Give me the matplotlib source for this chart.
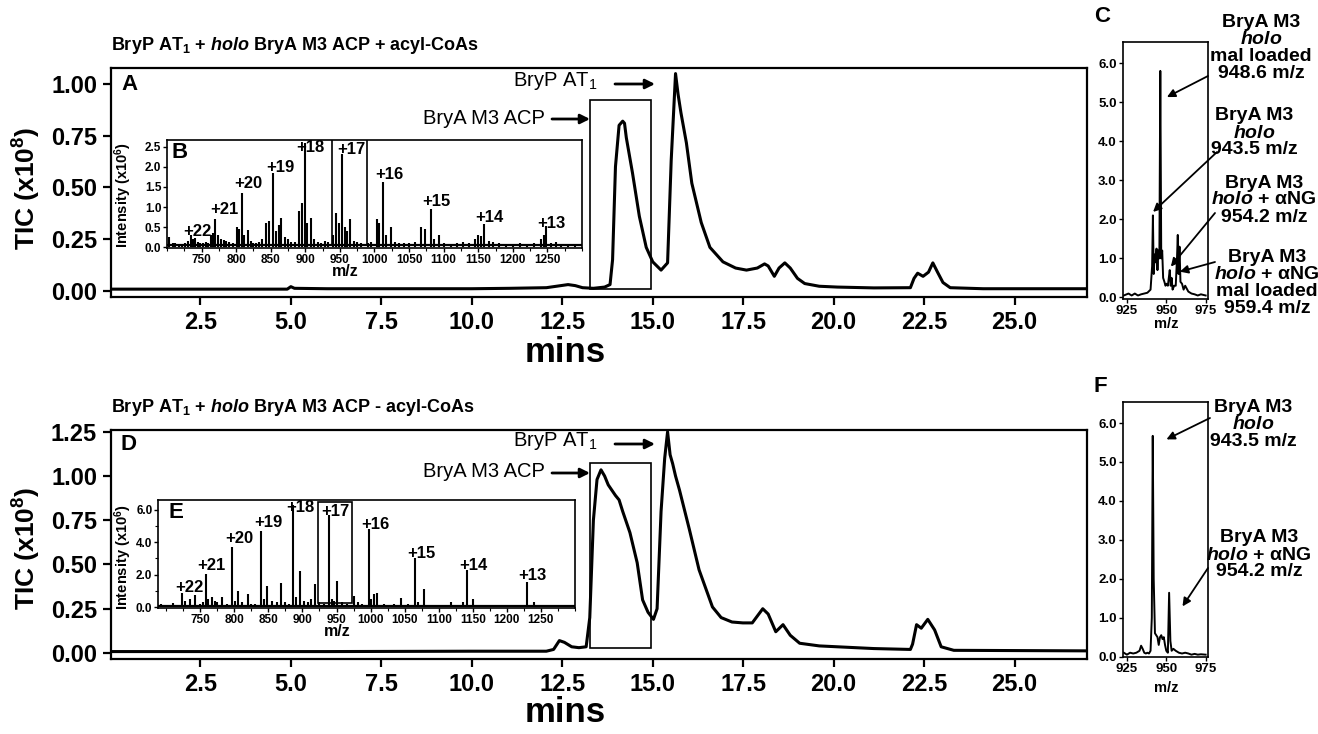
import matplotlib
matplotlib.use("Agg")
import matplotlib.pyplot as plt
from matplotlib.patches import Rectangle
from matplotlib.ticker import FormatStrFormatter, MultipleLocator

W, H = 1318, 734

plt.rcParams["font.family"] = ["Liberation Sans", "DejaVu Sans"]
plt.rcParams["mathtext.fontset"] = "custom"
plt.rcParams["mathtext.it"] = "Liberation Sans:italic:bold"
plt.rcParams["mathtext.rm"] = "Liberation Sans:bold"
plt.rcParams["mathtext.bf"] = "Liberation Sans:bold"

# ---- TIC chromatograms (mins, TIC x10^8) ----
time_a = [0.03, 1.0, 2.0, 3.0, 4.0, 4.9, 5.0, 5.1, 6.0, 8.0, 10.0, 11.05, 12.06, 12.46,
          12.66, 12.86, 13.06, 13.36, 13.67, 13.82, 13.89, 13.97, 14.07, 14.17, 14.22,
          14.27, 14.44, 14.63, 14.82, 15.0, 15.23, 15.41, 15.51, 15.63, 15.70, 15.78,
          15.93, 16.08, 16.34, 16.58, 16.94, 17.29, 17.59, 17.89, 18.09, 18.19, 18.36,
          18.49, 18.65, 18.80, 19.0, 19.2, 19.6, 20.1, 21.11, 22.12, 22.22, 22.32, 22.47,
          22.62, 22.74, 22.87, 23.02, 23.22, 24.13, 27.0]
tic_a = [0.008, 0.008, 0.008, 0.008, 0.008, 0.008, 0.02, 0.012, 0.01, 0.01, 0.01, 0.012,
         0.015, 0.025, 0.03, 0.025, 0.015, 0.012, 0.018, 0.03, 0.15, 0.6, 0.8, 0.82,
         0.81, 0.74, 0.57, 0.36, 0.21, 0.14, 0.10, 0.135, 0.63, 1.05, 0.95, 0.86, 0.715,
         0.52, 0.33, 0.21, 0.14, 0.11, 0.10, 0.11, 0.13, 0.12, 0.07, 0.11, 0.135, 0.11,
         0.06, 0.035, 0.022, 0.018, 0.014, 0.015, 0.06, 0.085, 0.07, 0.09, 0.135, 0.09,
         0.04, 0.015, 0.01, 0.01]

time_d = [0.03, 2.0, 4.0, 6.0, 8.0, 10.0, 12.06, 12.26, 12.42, 12.56, 12.76, 12.96,
          13.16, 13.26, 13.36, 13.46, 13.57, 13.67, 13.77, 13.87, 13.97, 14.07, 14.17,
          14.27, 14.37, 14.57, 14.72, 14.87, 15.02, 15.12, 15.23, 15.33, 15.41, 15.48,
          15.55, 15.63, 15.74, 16.01, 16.28, 16.65, 16.89, 17.19, 17.49, 17.75, 18.04,
          18.19, 18.40, 18.60, 18.80, 19.06, 19.6, 20.1, 21.11, 22.12, 22.18, 22.29,
          22.42, 22.6, 22.79, 22.97, 23.32, 27.0]
tic_d = [0.008, 0.008, 0.008, 0.008, 0.009, 0.01, 0.01, 0.02, 0.07, 0.06, 0.035, 0.03,
         0.035, 0.2, 0.75, 0.98, 1.035, 1.0, 0.95, 0.92, 0.89, 0.865, 0.8, 0.74, 0.68,
         0.51, 0.3, 0.23, 0.19, 0.25, 0.8, 1.1, 1.25, 1.12, 1.07, 1.0, 0.92, 0.7, 0.47,
         0.26, 0.2, 0.175, 0.17, 0.17, 0.25, 0.22, 0.12, 0.16, 0.1, 0.055, 0.04, 0.035,
         0.025, 0.02, 0.05, 0.16, 0.14, 0.19, 0.13, 0.035, 0.015, 0.012]

# ---- inset spectra (m/z, intensity) ----
mz_b = [703, 708, 712, 717, 722, 726, 730, 734, 737, 741, 745, 748, 752, 756, 760, 763,
        766, 770, 774, 778, 782, 786, 790, 795, 801, 804, 809, 812, 817, 821, 825, 829,
        833, 838, 843, 847, 853, 857, 862, 865, 870, 875, 880, 885, 891, 895, 900, 903,
        908, 912, 918, 923, 928, 933, 940, 945, 949, 953, 957, 960, 964, 970, 975, 980,
        990, 995, 1003, 1007, 1013, 1017, 1024, 1030, 1035, 1042, 1050, 1058, 1067, 1073,
        1081, 1086, 1093, 1100, 1110, 1120, 1128, 1137, 1145, 1150, 1154, 1159, 1166,
        1172, 1180, 1190, 1200, 1210, 1220, 1230, 1240, 1245, 1248, 1255, 1262, 1270,
        1280, 1290]
int_b = [0.25, 0.1, 0.1, 0.08, 0.08, 0.1, 0.15, 0.3, 0.2, 0.22, 0.12, 0.1, 0.1, 0.12,
         0.1, 0.3, 0.35, 0.69, 0.3, 0.2, 0.18, 0.15, 0.12, 0.1, 0.5, 0.45, 1.36, 0.3,
         0.42, 0.15, 0.1, 0.1, 0.12, 0.2, 0.6, 0.65, 1.84, 0.4, 0.55, 0.72, 0.25, 0.2,
         0.12, 0.12, 0.9, 1.1, 2.6, 0.6, 0.72, 0.2, 0.12, 0.1, 0.15, 0.12, 0.3, 0.85, 0.6,
         2.33, 0.5, 0.4, 0.7, 0.15, 0.12, 0.1, 0.1, 0.12, 0.7, 0.6, 1.63, 0.3, 0.5, 0.12,
         0.1, 0.1, 0.1, 0.12, 0.5, 0.45, 0.96, 0.2, 0.3, 0.1, 0.08, 0.1, 0.12, 0.1, 0.2,
         0.3, 0.28, 0.57, 0.15, 0.12, 0.1, 0.08, 0.08, 0.1, 0.07, 0.1, 0.2, 0.3, 0.53,
         0.1, 0.12, 0.08, 0.08, 0.06]
floor_b = 0.05

mz_e = [692, 700, 705, 710, 714, 718, 723, 728, 735, 743, 750, 754, 758, 762, 767, 771,
        775, 782, 790, 797, 801, 806, 812, 820, 825, 830, 839, 843, 848, 855, 862, 868,
        875, 880, 886, 890, 896, 902, 908, 913, 918, 925, 932, 939, 943, 946, 950, 958,
        966, 975, 981, 988, 997, 1001, 1005, 1010, 1020, 1035, 1045, 1055, 1065, 1070,
        1078, 1090, 1105, 1118, 1130, 1135, 1142, 1151, 1165, 1180, 1200, 1220, 1230,
        1240, 1260, 1280]
int_e = [0.2, 0.1, 0.15, 0.25, 0.1, 0.15, 0.85, 0.4, 0.5, 0.75, 0.2, 0.3, 2.05, 0.5,
         0.6, 0.4, 0.3, 0.6, 0.2, 3.72, 0.4, 1.0, 0.3, 0.8, 0.2, 0.2, 4.7, 0.5, 1.3, 0.4,
         0.3, 1.5, 0.3, 0.2, 6.3, 0.6, 2.2, 0.4, 0.3, 0.5, 1.4, 0.3, 0.2, 5.7, 0.5, 0.4,
         1.6, 0.3, 0.2, 0.7, 0.3, 0.2, 4.8, 0.5, 0.8, 0.9, 0.2, 0.2, 0.55, 0.2, 3.05, 0.3,
         1.1, 0.15, 0.1, 0.3, 0.15, 0.3, 2.3, 0.5, 0.15, 0.15, 0.12, 0.15, 1.55, 0.3, 0.1,
         0.1]
floor_e = 0.1

charges = ["+22", "+21", "+20", "+19", "+18", "+17", "+16", "+15", "+14", "+13"]
charge_mz_b = [744, 783, 818, 864, 908, 966, 1022, 1090, 1166, 1255]
charge_y_b = [0.40, 0.93, 1.58, 1.98, 2.48, 2.43, 1.80, 1.13, 0.73, 0.60]
charge_mz_e = [734, 767, 808, 850, 897, 949, 1007, 1075, 1151, 1238]
charge_y_e = [1.22, 2.54, 4.22, 5.2, 6.15, 5.9, 5.1, 3.3, 2.54, 1.98]

# ---- zoomed +17 charge state (m/z, intensity) ----
mz_c = [923, 926, 928, 930, 932, 934, 936, 938, 940, 941, 941.5, 942, 942.6, 943.2,
        943.8, 944.4, 945, 945.6, 946.2, 946.8, 947.4, 948, 948.8, 949.5, 950.2, 951,
        951.6, 952.2, 952.8, 953.4, 954, 955, 956, 956.8, 957.3, 957.8, 958.4, 959, 960,
        961, 962, 964, 966, 968, 970, 972, 975]
int_c = [0.05, 0.1, 0.05, 0.1, 0.05, 0.08, 0.1, 0.12, 0.2, 0.8, 2.1, 0.6, 1.1, 0.9,
         1.25, 0.7, 1.2, 1.0, 5.8, 1.0, 1.2, 0.5, 0.4, 0.3, 0.35, 0.3, 0.5, 0.7, 0.3, 0.5,
         0.2, 0.3, 0.3, 1.0, 1.6, 0.6, 1.3, 0.4, 0.35, 0.2, 0.3, 0.15, 0.1, 0.08, 0.05,
         0.08, 0.05]

mz_f = [923, 925, 927, 929, 931, 933, 934, 935, 936, 937, 938, 939, 940, 940.8, 941.4,
        942, 942.8, 943.6, 944.4, 945.2, 946, 946.8, 947.6, 948.4, 949.2, 950, 951,
        951.8, 952.6, 953.4, 954.5, 956, 958, 960, 962, 964, 966, 968, 970, 972, 975]
int_f = [0.1, 0.05, 0.1, 0.08, 0.1, 0.15, 0.28, 0.2, 0.1, 0.08, 0.1, 0.08, 0.15, 1.0,
         5.67, 2.0, 0.6, 0.55, 0.5, 0.3, 0.5, 0.55, 0.45, 0.5, 0.3, 0.15, 0.1, 1.64, 0.4,
         0.15, 0.2, 0.15, 0.1, 0.08, 0.1, 0.08, 0.05, 0.07, 0.05, 0.06, 0.05]


def fpx(x, y):
    return x / W, 1 - y / H


def ax_at(fig, left, top, right, bottom):
    return fig.add_axes([left / W, 1 - bottom / H, (right - left) / W, (bottom - top) / H])


def bold_ticks(ax):
    for lab in ax.get_xticklabels() + ax.get_yticklabels():
        lab.set_fontweight("bold")


def style_main(ax, ylim, ytop):
    ax.set_xlim(0.03, 27.0)
    ax.set_ylim(*ylim)
    ax.set_xticks([2.5, 5, 7.5, 10, 12.5, 15, 17.5, 20, 22.5, 25])
    ax.set_yticks([i * 0.25 for i in range(ytop + 1)])
    ax.xaxis.set_major_formatter(FormatStrFormatter("%.1f"))
    ax.yaxis.set_major_formatter(FormatStrFormatter("%.2f"))
    ax.tick_params(direction="out", length=6, width=1.6, labelsize=17, pad=4)
    bold_ticks(ax)
    for s in ax.spines.values():
        s.set_linewidth(1.6)


def style_inset(ax, xlim, ylim, ystep, yminor):
    ax.set_xlim(*xlim)
    ax.set_ylim(*ylim)
    ax.set_xticks(range(750, 1300, 50))
    ax.xaxis.set_minor_locator(MultipleLocator(25))
    ax.yaxis.set_major_locator(MultipleLocator(ystep))
    if yminor:
        ax.yaxis.set_minor_locator(MultipleLocator(yminor))
    ax.yaxis.set_major_formatter(FormatStrFormatter("%.1f"))
    ax.tick_params(direction="out", length=3, width=1, labelsize=8.5, pad=1)
    ax.tick_params(which="minor", direction="out", length=2, width=0.8)
    bold_ticks(ax)
    for s in ax.spines.values():
        s.set_linewidth(1.2)


def style_zoom(ax, ylim):
    ax.set_xlim(922.5, 976.5)
    ax.set_ylim(*ylim)
    ax.set_xticks([925, 950, 975])
    ax.yaxis.set_major_locator(MultipleLocator(1))
    ax.yaxis.set_major_formatter(FormatStrFormatter("%.1f"))
    ax.tick_params(direction="out", length=3, width=1, labelsize=9.5, pad=1.5)
    bold_ticks(ax)
    for s in ax.spines.values():
        s.set_linewidth(1.2)


def arrow(ax, head, tail, lw=1.3, scale=12, head_coords="figure fraction"):
    ax.annotate("", xy=head, xycoords=head_coords, xytext=tail,
                textcoords="figure fraction", annotation_clip=False,
                arrowprops=dict(arrowstyle="-|>", lw=lw, color="k",
                                mutation_scale=scale, shrinkA=0, shrinkB=0))


fig = plt.figure(figsize=(W / 100, H / 100), dpi=100)

# ---------- panel A ----------
ax_a = ax_at(fig, 111, 68, 1087, 297)
ax_a.plot(time_a, tic_a, color="k", lw=2.2)
ax_a.add_patch(Rectangle((13.28, 0.01), 1.68, 0.91, fill=False, lw=1.2, ec="k"))
style_main(ax_a, (-0.03, 1.077), 4)

# ---------- panel D ----------
ax_d = ax_at(fig, 111, 430, 1087, 659)
ax_d.plot(time_d, tic_d, color="k", lw=2.2)
ax_d.add_patch(Rectangle((13.28, 0.03), 1.68, 1.045, fill=False, lw=1.2, ec="k"))
style_main(ax_d, (-0.034, 1.26), 5)

for ax, y0, dy in ((ax_a, 0, 0), (ax_d, 360, -6)):
    fig.text(*fpx(27, 188 + y0), "TIC (x10$^{\\mathregular{8}}$)", rotation=90,
             ha="center", va="center", fontsize=19, fontweight="bold")
    fig.text(*fpx(565, 352 + y0), "mins", ha="center", va="center", fontsize=25,
             fontweight="bold")
    fig.text(*fpx(513, 81 + y0), "BryP AT$_{\\mathregular{1}}$", ha="left",
             va="center", fontsize=14.5)
    arrow(ax, fpx(655, 84 + y0), fpx(615, 84 + y0), lw=2, scale=14)
    fig.text(*fpx(545, 118 + y0 + dy), "BryA M3 ACP", ha="right", va="center",
             fontsize=14.5)
    arrow(ax, fpx(590, 119 + y0 + dy), fpx(552, 119 + y0 + dy), lw=2, scale=14)

fig.text(*fpx(111, 45), "BryP AT$_{\\mathregular{1}}$ + $\\it{holo}$ BryA M3 ACP + acyl-CoAs",
         ha="left", va="center", fontsize=13, fontweight="bold")
fig.text(*fpx(111, 407), "BryP AT$_{\\mathregular{1}}$ + $\\it{holo}$ BryA M3 ACP - acyl-CoAs",
         ha="left", va="center", fontsize=13, fontweight="bold")

for letter, x, y in [("A", 129, 85), ("D", 128, 444), ("C", 1102, 16), ("F", 1100, 387)]:
    fig.text(*fpx(x, y), letter, ha="center", va="center", fontsize=16, fontweight="bold")

# ---------- inset B ----------
ax_b = ax_at(fig, 167, 140, 582, 248)
ax_b.vlines(mz_b, 0, int_b, color="k", lw=1.5)
ax_b.plot([700, 1300], [floor_b, floor_b], color="k", lw=1.6)
ax_b.add_patch(Rectangle((938, 0.05), 51, 2.7, fill=False, lw=1.2, ec="k"))
style_inset(ax_b, (700, 1300), (-0.02, 2.67), 0.5, None)
for lab, x, y in zip(charges, charge_mz_b, charge_y_b):
    ax_b.text(x, y, lab, ha="center", va="center", fontsize=12, fontweight="bold")
fig.text(*fpx(180, 153), "B", ha="center", va="center", fontsize=16, fontweight="bold")

# ---------- inset E ----------
ax_e = ax_at(fig, 158, 500, 575, 608)
ax_e.vlines(mz_e, 0, int_e, color="k", lw=1.5)
ax_e.plot([688, 1300], [floor_e, floor_e], color="k", lw=1.6)
ax_e.add_patch(Rectangle((923, 0.25), 50, 6.2, fill=False, lw=1.2, ec="k"))
style_inset(ax_e, (688, 1300), (-0.05, 6.6), 2, 1)
for lab, x, y in zip(charges, charge_mz_e, charge_y_e):
    ax_e.text(x, y, lab, ha="center", va="center", fontsize=12, fontweight="bold")
fig.text(*fpx(176, 512), "E", ha="center", va="center", fontsize=16, fontweight="bold")

for yc in (195, 557):
    fig.text(*fpx(123, yc), "Intensity (x10$^{\\mathregular{6}}$)", rotation=90,
             ha="center", va="center", fontsize=10.5, fontweight="bold")
fig.text(*fpx(345, 272), "m/z", ha="center", va="center", fontsize=11.5, fontweight="bold")
fig.text(*fpx(337, 632), "m/z", ha="center", va="center", fontsize=11.5, fontweight="bold")

# ---------- panel C ----------
ax_c = ax_at(fig, 1123, 42, 1208, 299)
ax_c.plot(mz_c, int_c, color="k", lw=1.4)
style_zoom(ax_c, (-0.04, 6.54))
fig.text(*fpx(1166, 324), "m/z", ha="center", va="center", fontsize=10.5, fontweight="bold")

c_labels = [
    ("BryA M3\n$\\it{holo}$\nmal loaded\n948.6 m/z", 1261, 48),
    ("BryA M3\n$\\it{holo}$\n943.5 m/z", 1254, 133),
    ("BryA M3\n$\\it{holo}$ + αNG\n954.2 m/z", 1264, 200),
    ("BryA M3\n$\\it{holo}$ + αNG\nmal loaded\n959.4 m/z", 1267, 283),
]
for txt, x, y in c_labels:
    fig.text(*fpx(x, y), txt, ha="center", va="center", fontsize=14,
             fontweight="bold", linespacing=1.0)
arrow(ax_c, (950.4, 5.13), fpx(1208, 76), head_coords="data")
arrow(ax_c, (941.6, 2.19), fpx(1217, 152), head_coords="data")
arrow(ax_c, (952.9, 0.79), fpx(1215, 213), head_coords="data")
arrow(ax_c, (958.6, 0.66), fpx(1215, 262), head_coords="data")

# ---------- panel F ----------
ax_f = ax_at(fig, 1123, 402, 1208, 657)
ax_f.plot(mz_f, int_f, color="k", lw=1.4)
style_zoom(ax_f, (-0.01, 6.54))
fig.text(*fpx(1166, 688), "m/z", ha="center", va="center", fontsize=10.5, fontweight="bold")

f_labels = [
    ("BryA M3\n$\\it{holo}$\n943.5 m/z", 1253, 425),
    ("BryA M3\n$\\it{holo}$ + αNG\n954.2 m/z", 1259, 555),
]
for txt, x, y in f_labels:
    fig.text(*fpx(x, y), txt, ha="center", va="center", fontsize=14,
             fontweight="bold", linespacing=1.0)
arrow(ax_f, (950.1, 5.58), fpx(1210, 418), head_coords="data")
arrow(ax_f, (960.3, 1.29), fpx(1208, 568), head_coords="data")

fig.savefig("out.png", dpi=100)
plt.close()
